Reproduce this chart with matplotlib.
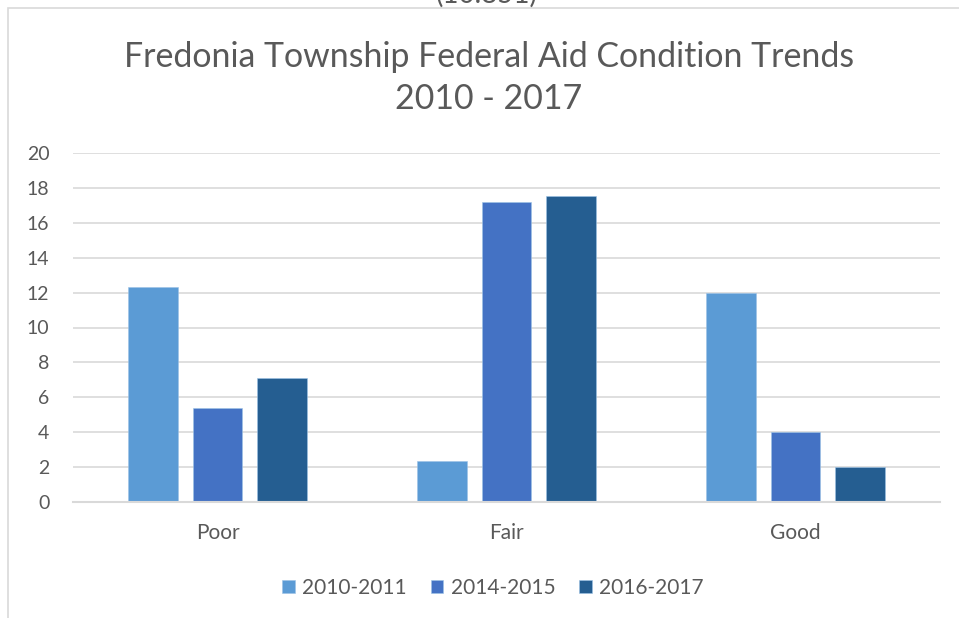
import matplotlib
matplotlib.use('Agg')
import matplotlib.pyplot as plt
import numpy as np
from matplotlib.patches import Rectangle

plt.rcParams['font.family'] = ['Lato', 'DejaVu Sans']

# === DATA ===
categories = ["Poor", "Fair", "Good"]
series_names = ["2010-2011", "2014-2015", "2016-2017"]
vals_2010_2011 = [12.3, 2.35, 12.0]
vals_2014_2015 = [5.4, 17.2, 4.0]
vals_2016_2017 = [7.1, 17.55, 2.0]
y_ticks = [0, 2, 4, 6, 8, 10, 12, 14, 16, 18, 20]

colors = ["#5B9BD5", "#4472C4", "#255E91"]
txt_col = "#595959"
grid_col = "#D9D9D9"

W, H = 959, 618
fig = plt.figure(figsize=(W / 100, H / 100), dpi=100)

# chart frame (cut off on right and bottom)
fig.patches.append(Rectangle((8 / W, -0.1), 1.2, 1 - 8 / H + 0.1,
                             transform=fig.transFigure, fill=False,
                             edgecolor=grid_col, linewidth=1.2))
# partial text above the chart, cut by the image top
fig.text(487 / W, 1 - 8 / H, "(10.851)", ha="center", va="bottom",
         fontsize=20, color=txt_col)

ax = fig.add_axes([73 / W, 116 / H, (940 - 73) / W, (502 - 153) / H])

x = np.arange(len(categories))
bw = 0.173
off = 0.2215
for i, (name, vals) in enumerate(zip(series_names,
                                     [vals_2010_2011, vals_2014_2015, vals_2016_2017])):
    ax.bar(x + (i - 1) * off, vals, width=bw, color=colors[i], label=name,
           edgecolor="#9DC3E6", linewidth=0.4, zorder=3)

ax.set_xlim(-0.5, 2.5)
ax.set_ylim(0, 20)
ax.set_yticks(y_ticks)
ax.set_xticks(x)
ax.set_xticklabels(categories, fontsize=15)
ax.tick_params(axis="both", length=0, colors=txt_col)
ax.tick_params(axis="y", labelsize=14, pad=17)
ax.tick_params(axis="x", pad=15)
ax.grid(axis="y", color=grid_col, linewidth=1.2, zorder=0)
for s in ["top", "right", "left"]:
    ax.spines[s].set_visible(False)
ax.spines["bottom"].set_color(grid_col)
ax.spines["bottom"].set_linewidth(1.5)
ax.spines["bottom"].set_zorder(4)

fig.text(489 / W, 1 - 78 / H, "Fredonia Township Federal Aid Condition Trends\n2010 - 2017",
         ha="center", va="center", fontsize=24.4, color=txt_col, linespacing=1.4)

ax.legend(loc="center", bbox_to_anchor=((493 - 73) / (940 - 73), (502 - 588) / (502 - 153)),
          ncol=3, frameon=False, fontsize=15, labelcolor=txt_col,
          handlelength=0.6, handleheight=0.6, handletextpad=0.35, columnspacing=1.15)

fig.savefig("out.png", dpi=100)
